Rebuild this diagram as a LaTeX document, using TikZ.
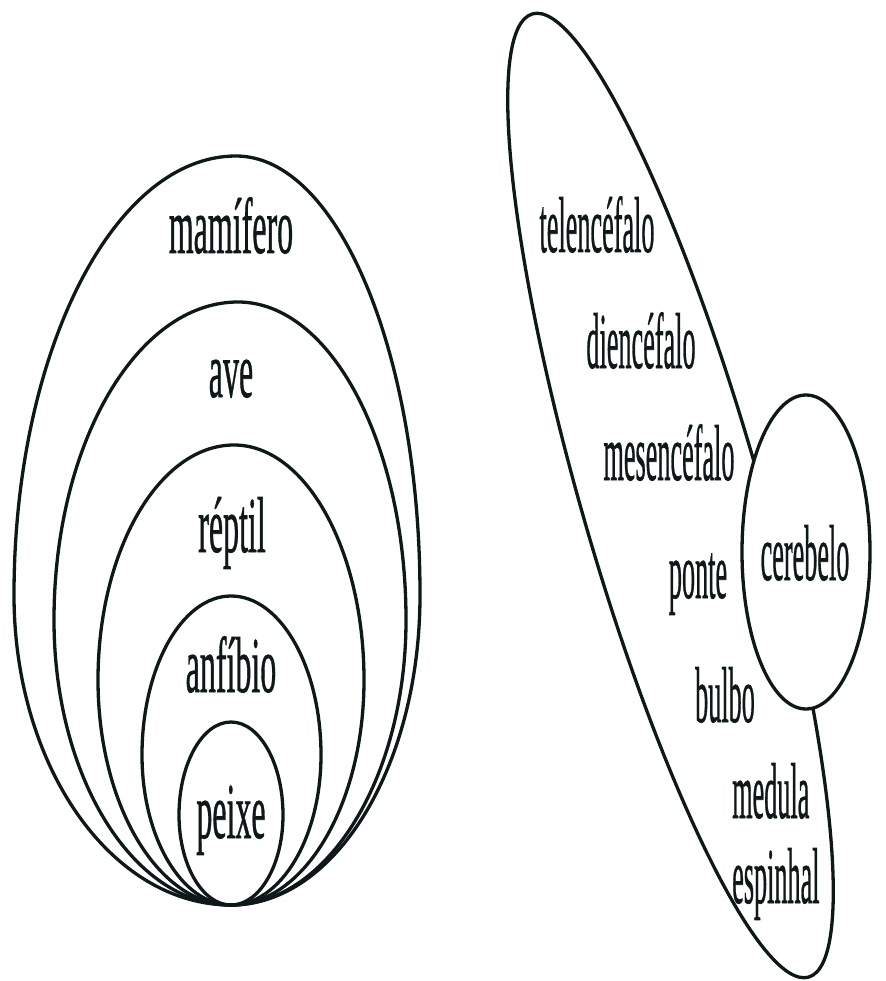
\documentclass[tikz,border=0pt]{standalone}
\usepackage{fontspec}
\setmainfont{Liberation Serif}
\newfontfamily\lblfont[FakeBold=1]{Liberation Serif}
\usepackage{graphicx}
\usetikzlibrary{shapes.geometric}
\definecolor{ink}{RGB}{14,24,24}
% egg-shaped closed curve through bottom B, left L, top T, right R (image coords, y down)
\newcommand{\egg}[8]{%
  \draw[shapeline] (#1,#2)
    .. controls ({#1-0.5523*(#1-#3)},#2) and (#3,{#4+0.5523*(#2-#4)}) .. (#3,#4)
    .. controls (#3,{#4-0.5523*(#4-#6)}) and ({#5-0.5523*(#5-#3)},#6) .. (#5,#6)
    .. controls ({#5+0.5523*(#7-#5)},#6) and (#7,{#8-0.5523*(#8-#6)}) .. (#7,#8)
    .. controls (#7,{#8+0.5523*(#2-#8)}) and ({#1+0.5523*(#7-#1)},#2) .. cycle;}
\newcommand{\Ltxt}[1]{\scalebox{0.444}[1.1]{\lblfont\fontsize{72}{84}\selectfont #1}}
\newcommand{\Rtxt}[1]{\scalebox{0.364}[1.1]{\lblfont\fontsize{72}{84}\selectfont #1}}
\begin{document}
\begin{tikzpicture}[x=1pt,y=-1pt,
  shapeline/.style={draw=ink, line width=3.3pt},
  lbl/.style={inner sep=0pt, anchor=base, text=ink}]
\useasboundingbox (0,0) rectangle (885,981);
% left: nested sets
\egg{231}{905}{14}{595}{236}{156}{420}{595}
\egg{231}{905}{54}{620}{238}{302}{406}{620}
\egg{231}{905}{98}{680}{234}{445}{364}{680}
\egg{231}{905}{142}{755}{231}{596}{321}{755}
\egg{231}{905}{179}{815}{231}{722}{283}{815}
\node[lbl] (mamifero) at (231,253) {\Ltxt{mamífero}};
\node[lbl] (ave) at (231,397) {\Ltxt{ave}};
\node[lbl] (reptil) at (232,552) {\Ltxt{réptil}};
\node[lbl] (anfibio) at (231,692) {\Ltxt{anfíbio}};
\node[lbl] (peixe) at (231,838) {\Ltxt{peixe}};
% right: brain
\draw[shapeline, rotate around={16:(670.5,495.5)}] (670.5,495.5) ellipse [x radius=89.6pt, y radius=501pt];
\node[shapeline, ellipse, fill=white, inner sep=0pt, minimum width=128pt, minimum height=314pt] (cerebeloshape) at (806,552) {};
\node[lbl] (cerebelo) at (805,580) {\Rtxt{cerebelo}};
\node[lbl] (telencefalo) at (597,252) {\Rtxt{telencéfalo}};
\node[lbl] (diencefalo) at (641,368) {\Rtxt{diencéfalo}};
\node[lbl] (mesencefalo) at (669,480) {\Rtxt{mesencéfalo}};
\node[lbl] (ponte) at (698,598) {\Rtxt{ponte}};
\node[lbl] (bulbo) at (725,722) {\Rtxt{bulbo}};
\node[lbl, anchor=base west] (medula) at (732,818) {\Rtxt{medula}};
\node[lbl, anchor=base west] (espinhal) at (732,903) {\Rtxt{espinhal}};
\end{tikzpicture}
\end{document}
